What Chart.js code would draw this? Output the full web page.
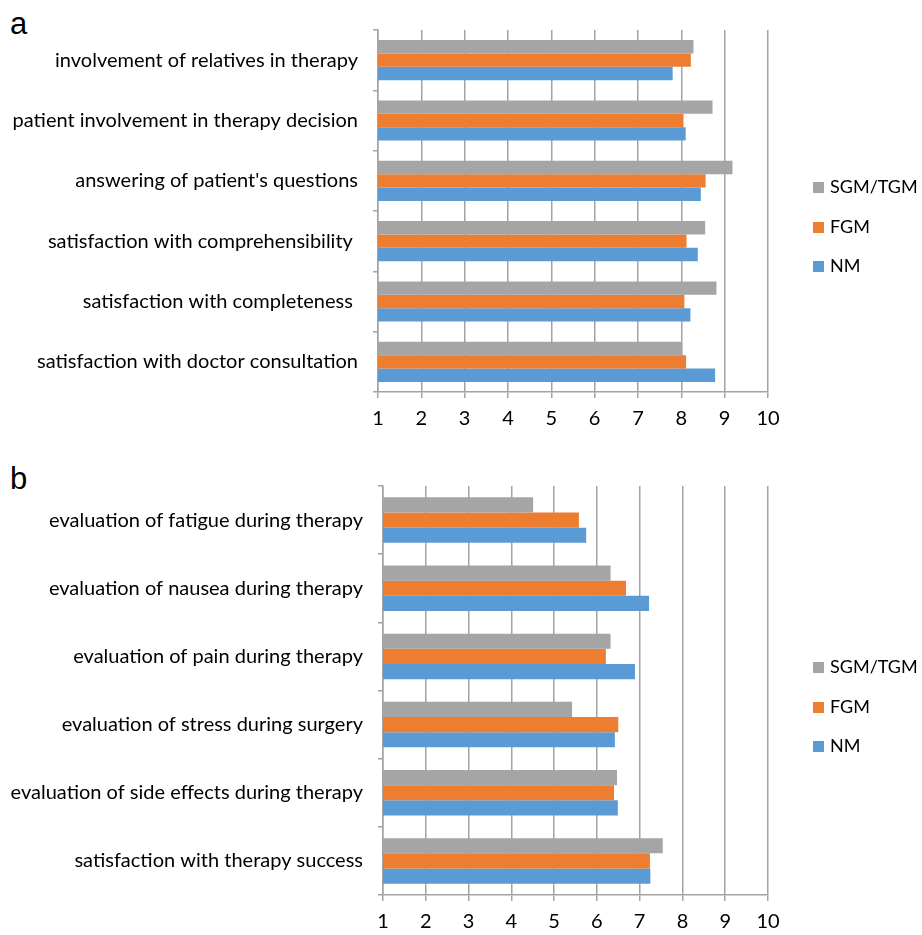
<!DOCTYPE html>
<html>
<head>
<meta charset="utf-8">
<script src="https://cdn.jsdelivr.net/npm/chart.js@4/dist/chart.umd.min.js"></script>
<style>
  html, body { margin: 0; padding: 0; background: #fff; }
  #wrap { position: relative; width: 922px; height: 935px; font-family: Lato, "Open Sans", sans-serif; color: #000; }
  .panel-tag { position: absolute; left: 10px; font-family: "Liberation Sans", Arial, sans-serif; font-size: 31px; line-height: 1; }
  .cbox { position: absolute; }
  .lg { position: absolute; left: 813px; font-size: 18px; line-height: 20px; }
  .lg span { display: inline-block; width: 11px; height: 11px; margin-right: 6px; vertical-align: 0px; }
</style>
</head>
<body>
<div id="wrap">
  <div class="panel-tag" style="top:8px">a</div>
  <div class="panel-tag" style="top:463px">b</div>
  <div class="cbox" style="left:0;top:0;width:922px;height:450px"><canvas id="chartA"></canvas></div>
  <div class="cbox" style="left:0;top:455px;width:922px;height:480px"><canvas id="chartB"></canvas></div>
  <div id="legendA"></div>
  <div id="legendB"></div>
</div>
<script>
// パネル a: 医師とのコミュニケーションに関する満足度
var catsA = [
  "involvement of relatives in therapy",
  "patient involvement in therapy decision",
  "answering of patient's questions",
  "satisfaction with comprehensibility ",
  "satisfaction with completeness ",
  "satisfaction with doctor consultation"
];
var sgmA = [8.28, 8.72, 9.18, 8.55, 8.81, 8.02];
var fgmA = [8.22, 8.05, 8.56, 8.12, 8.07, 8.11];
var nmA  = [7.80, 8.10, 8.45, 8.38, 8.21, 8.78];

// パネル b: 治療中の負担の評価
var catsB = [
  "evaluation of fatigue during therapy",
  "evaluation of nausea during therapy",
  "evaluation of pain during therapy",
  "evaluation of stress during surgery",
  "evaluation of side effects during therapy",
  "satisfaction with therapy success"
];
var sgmB = [4.51, 6.32, 6.32, 5.42, 6.47, 7.54];
var fgmB = [5.58, 6.68, 6.21, 6.50, 6.40, 7.24];
var nmB  = [5.75, 7.22, 6.89, 6.42, 6.49, 7.25];

var seriesNames = ["SGM/TGM", "FGM", "NM"];
var xTicks = [1, 2, 3, 4, 5, 6, 7, 8, 9, 10];

(function () {
    "use strict";
    var COLORS = ["#a5a5a5", "#ed7d31", "#5b9bd5"];
    var GRID = "#a3a3a3";

    Chart.defaults.font.family = "Lato, 'Open Sans', sans-serif";
    Chart.defaults.font.size = 20;
    Chart.defaults.color = "#000";

    function build(canvasId, labels, sets, yWidth, pad) {
        var cfg = {
            type: "bar",
            data: {
                labels: labels,
                datasets: sets.map(function (d, i) {
                    return { label: seriesNames[i], data: d, backgroundColor: COLORS[i],
                             borderWidth: 0, categoryPercentage: 0.667, barPercentage: 1.0 };
                })
            },
            options: {
                indexAxis: "y",
                responsive: true, maintainAspectRatio: false, animation: false,
                layout: { padding: pad },
                scales: {
                    x: {
                        min: 1, max: 10,
                        afterBuildTicks: function (ax) { ax.ticks = xTicks.map(function (v) { return { value: v }; }); },
                        afterFit: function (ax) { ax.height = 40; },
                        grid: { color: GRID, lineWidth: 1.5, tickLength: 6 },
                        border: { color: GRID, width: 1.5 },
                        ticks: { padding: 9, font: { size: 20 } }
                    },
                    y: {
                        afterFit: function (ax) { ax.width = yWidth; },
                        grid: { drawOnChartArea: false, color: GRID, lineWidth: 1.5, tickLength: 5, offset: true },
                        border: { color: GRID, width: 1.5 },
                        ticks: { padding: 15, font: { size: 20 } }
                    }
                },
                plugins: { legend: { display: false }, tooltip: { enabled: false } }
            }
        };
        return new Chart(document.getElementById(canvasId).getContext("2d"), cfg);
    }

    build("chartA", catsA, [sgmA, fgmA, nmA], 378, { left: 0, right: 154, top: 30, bottom: 18 });
    build("chartB", catsB, [sgmB, fgmB, nmB], 383, { left: 0, right: 154, top: 31, bottom: 0 });

    // 凡例 (HTML)
    function legend(id, centers) {
        var host = document.getElementById(id);
        seriesNames.forEach(function (n, i) {
            var d = document.createElement("div");
            d.className = "lg";
            d.style.top = (centers[i] - 10) + "px";
            d.innerHTML = '<span style="background:' + COLORS[i] + '"></span>' + n;
            host.appendChild(d);
        });
    }
    legend("legendA", [186, 226, 265]);
    legend("legendB", [666, 706, 745]);
})();
</script>
</body>
</html>
